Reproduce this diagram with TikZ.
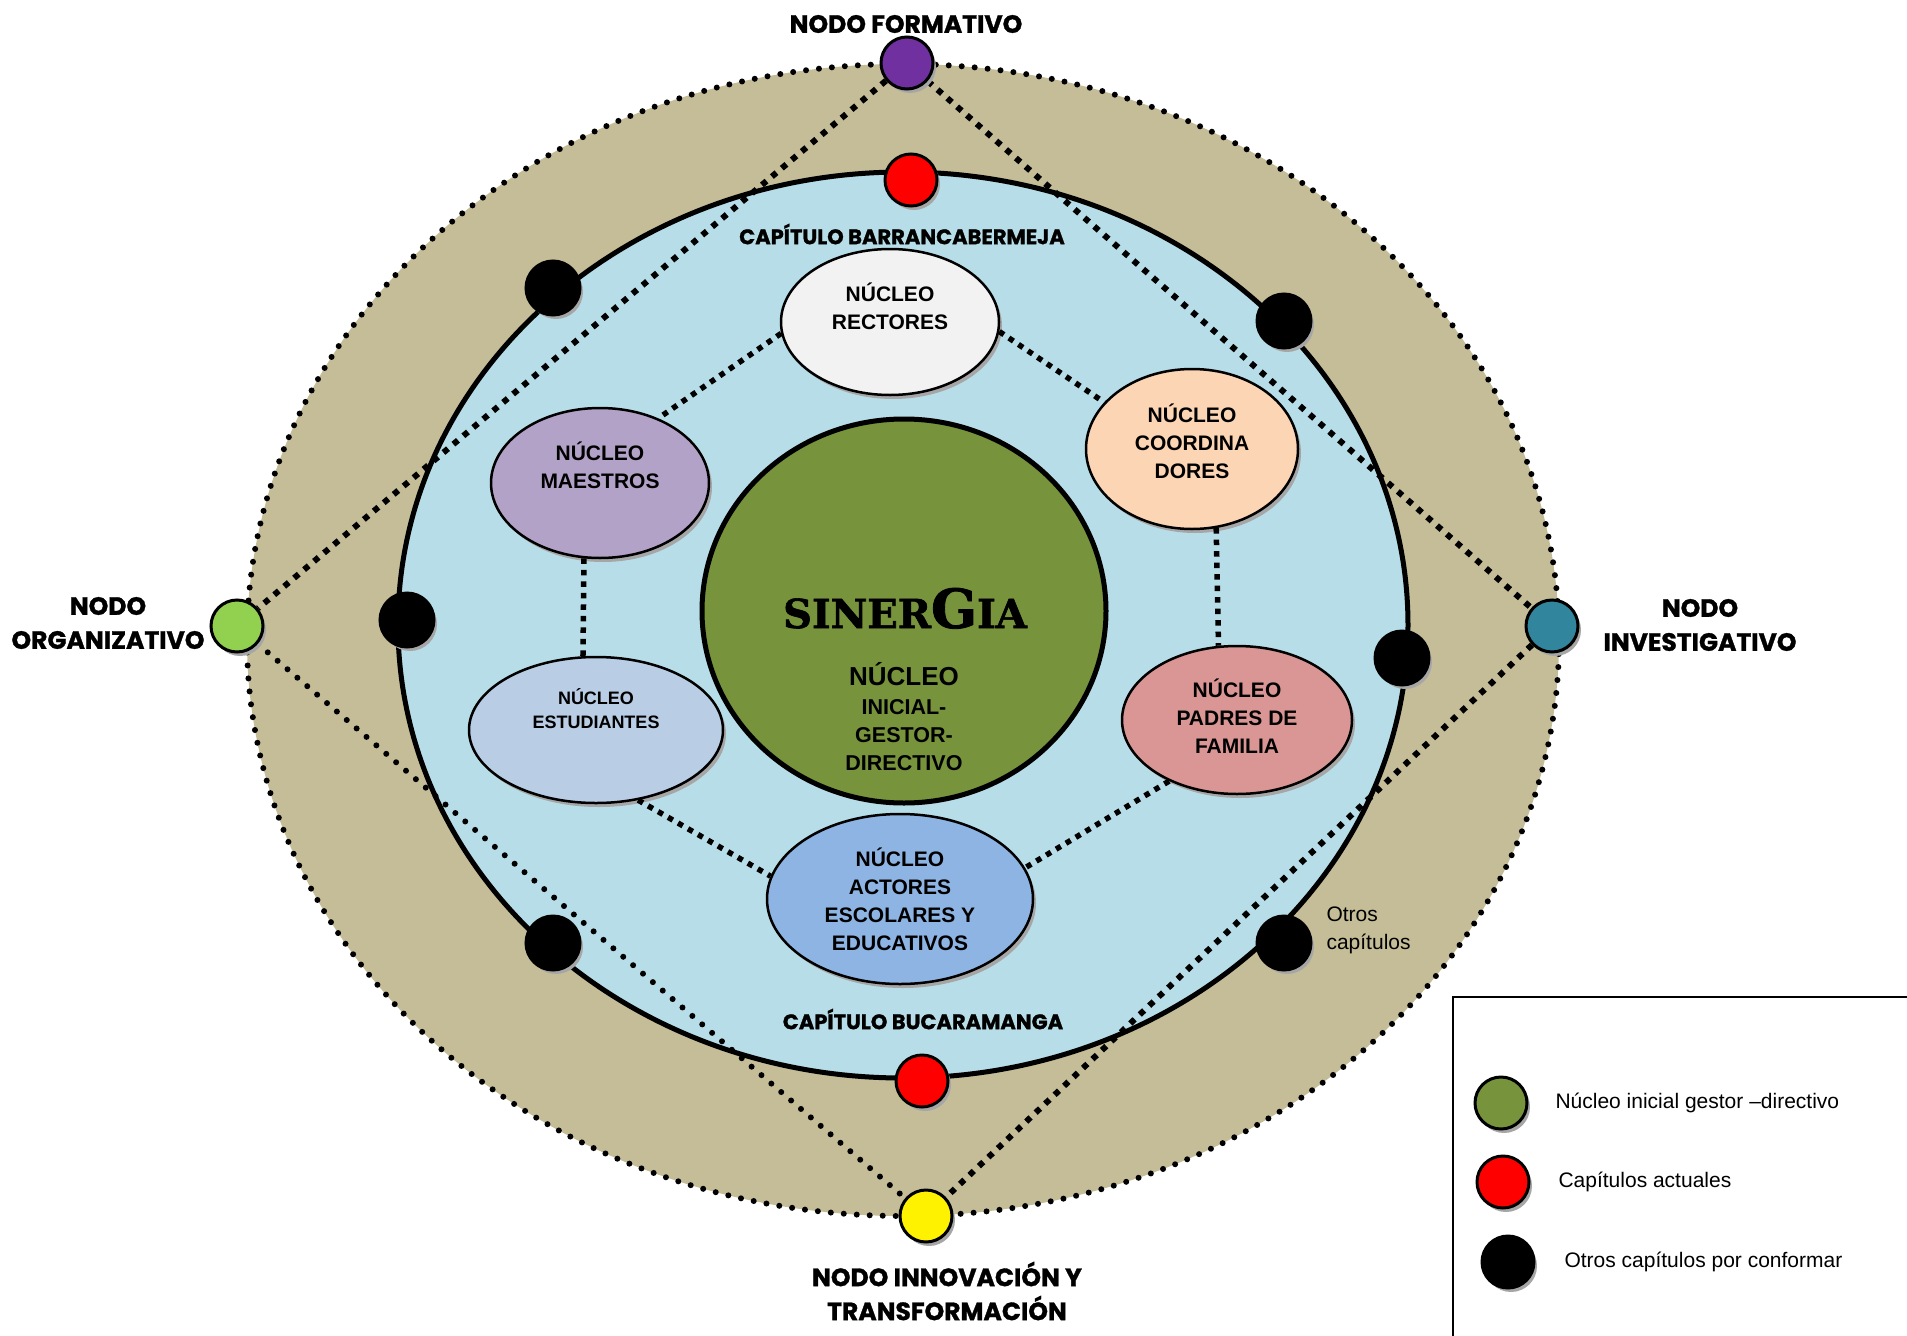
\documentclass[tikz,border=0pt]{standalone}
\usepackage{fontspec}
\setmainfont{Liberation Sans}
\newfontfamily\nodofont[FakeBold=1.2]{Poppins}
\newfontfamily\sinfont[FakeBold=1.5]{DejaVu Serif}
\usetikzlibrary{shapes.geometric,shadows}
\definecolor{tanbg}{HTML}{C4BD97}
\definecolor{aquabg}{HTML}{B7DEE8}
\definecolor{sinergia}{HTML}{77933C}
\definecolor{formc}{HTML}{7030A0}
\definecolor{orgc}{HTML}{92D050}
\definecolor{invc}{HTML}{31859C}
\definecolor{rectc}{HTML}{F2F2F2}
\definecolor{maesc}{HTML}{B3A2C7}
\definecolor{coorc}{HTML}{FCD5B5}
\definecolor{estuc}{HTML}{B9CDE5}
\definecolor{padrc}{HTML}{D99694}
\definecolor{actc}{HTML}{8EB4E3}
\pgfdeclarelayer{back}
\pgfdeclarelayer{mid}
\pgfsetlayers{back,mid,main}
\tikzset{
  shad/.style={drop shadow={shadow xshift=3pt, shadow yshift=-4pt, fill=black!35, opacity=1}},
  nuc/.style={ellipse, draw=black, line width=2.5pt, inner sep=0pt, shad},
  nuctext/.style={font=\bfseries\fontsize{21}{28}\selectfont, align=center, inner sep=0pt},
  dotnode/.style={circle, draw=black, line width=3pt, minimum size=52pt, inner sep=0pt, shad},
  sqdots/.style={line width=6pt, dash pattern=on 6pt off 7pt},
  nucdots/.style={line width=5.5pt, dash pattern=on 5.5pt off 6pt},
  rddots/.style={line width=6pt, line cap=round, dash pattern=on 0pt off 13pt},
  nodolbl/.style={font=\nodofont\bfseries\fontsize{25}{34}\selectfont, align=center},
  caplbl/.style={font=\nodofont\bfseries\fontsize{21}{24}\selectfont},
  legtext/.style={font=\fontsize{21}{28}\selectfont, anchor=west, align=left},
}
\begin{document}
\begin{tikzpicture}[x=1pt,y=-1pt]
\useasboundingbox (0,0) rectangle (1907,1336);
\begin{pgfonlayer}{back}
\draw[fill=tanbg, rddots] (903,640) ellipse [x radius=656pt, y radius=576pt];
\draw[fill=aquabg, line width=5pt] (903,625) ellipse [x radius=505pt, y radius=453pt];
\end{pgfonlayer}

% outer nodes
\node[dotnode, fill=formc] (form) at (907,63) {};
\node[dotnode, fill=orgc] (org) at (237,626) {};
\node[dotnode, fill=invc] (inv) at (1552,626) {};
\node[dotnode, fill=yellow] (inn) at (926,1216) {};
\node[dotnode, fill=red] (capb) at (911,180) {};
\node[dotnode, fill=red] (capbu) at (922,1081) {};
\node[dotnode, fill=black, minimum size=54pt] (k1) at (553,288) {};
\node[dotnode, fill=black, minimum size=54pt] (k2) at (1284,321) {};
\node[dotnode, fill=black, minimum size=54pt] (k3) at (407,620) {};
\node[dotnode, fill=black, minimum size=54pt] (k4) at (1402,658) {};
\node[dotnode, fill=black, minimum size=54pt] (k5) at (553,943) {};
\node[dotnode, fill=black, minimum size=54pt] (k6) at (1284,943) {};

\begin{pgfonlayer}{mid}
\draw[sqdots] (form) -- (org);
\draw[sqdots] (form) -- (inv);
\draw[rddots] (org) -- (inn);
\draw[sqdots] (inv) -- (inn);
\end{pgfonlayer}

% centre
\node[ellipse, draw=black, line width=5pt, fill=sinergia, minimum width=404pt, minimum height=384pt, inner sep=0pt] (sin) at (904,611) {};
\node[anchor=base, inner sep=0pt] (sintitle) at (905,628) {\sinfont\bfseries\fontsize{40}{40}\selectfont SINER\fontsize{54}{54}\selectfont G\fontsize{40}{40}\selectfont IA};
\node[font=\bfseries\fontsize{26}{30}\selectfont, inner sep=0pt] (nuc0) at (904,674) {NÚCLEO};
\node[font=\bfseries\fontsize{21.5}{28}\selectfont, align=center, inner sep=0pt] (nuc0b) at (904,735) {INICIAL-\\GESTOR-\\DIRECTIVO};

% nucleos
\node[nuc, fill=rectc, minimum width=218pt, minimum height=146pt,
  label={[nuctext,yshift=16pt]center:{NÚCLEO\\RECTORES}}] (rect) at (890,322) {};
\node[nuc, fill=maesc, minimum width=218pt, minimum height=150pt,
  label={[nuctext,yshift=18pt]center:{NÚCLEO\\MAESTROS}}] (maes) at (600,483) {};
\node[nuc, fill=coorc, minimum width=212pt, minimum height=160pt,
  label={[nuctext,yshift=8pt]center:{NÚCLEO\\COORDINA\\DORES}}] (coor) at (1192,449) {};
\node[nuc, fill=estuc, minimum width=254pt, minimum height=146pt,
  label={[nuctext,font=\bfseries\fontsize{18}{24}\selectfont,yshift=21pt]center:{NÚCLEO\\ESTUDIANTES}}] (estu) at (596,730) {};
\node[nuc, fill=padrc, minimum width=230pt, minimum height=148pt,
  label={[nuctext,yshift=4pt]center:{NÚCLEO\\PADRES DE\\FAMILIA}}] (padr) at (1237,720) {};
\node[nuc, fill=actc, minimum width=266pt, minimum height=170pt,
  label={[nuctext]center:{NÚCLEO\\ACTORES\\ESCOLARES Y\\EDUCATIVOS}}] (act) at (900,899) {};

\draw[nucdots] (rect.186) -- (maes.48);
\draw[nucdots] (rect.355) -- (coor.152);
\draw[nucdots] (maes.258) -- (estu.100);
\draw[nucdots] (coor.287) -- (padr.104);
\draw[nucdots] (estu.301) -- (act.170);
\draw[nucdots] (padr.222) -- (act.14);

% labels
\node[nodolbl] (lform) at (906,24) {NODO FORMATIVO};
\node[nodolbl] (lorg) at (108,623) {NODO\\ORGANIZATIVO};
\node[nodolbl] (linv) at (1700,625) {NODO\\INVESTIGATIVO};
\node[nodolbl] (linn) at (947,1291) {NODO INNOVACIÓN Y\\TRANSFORMACIÓN};
\node[caplbl] (lcapb) at (902,234) {CAPÍTULO BARRANCABERMEJA};
\node[caplbl] (lcapbu) at (923,1019) {CAPÍTULO BUCARAMANGA};
\node[legtext] (otros) at (1323,930) {Otros\\capítulos};

% legend
\draw[line width=2pt] (1453,997) rectangle (1915,1345);
\node[dotnode, fill=sinergia] (lg1) at (1501,1103) {};
\node[legtext] (lt1) at (1552,1103) {Núcleo inicial gestor –directivo};
\node[dotnode, fill=red] (lg2) at (1503,1182) {};
\node[legtext] (lt2) at (1555,1182) {Capítulos actuales};
\node[dotnode, fill=black] (lg3) at (1508,1262) {};
\node[legtext] (lt3) at (1561,1262) {Otros capítulos por conformar};
\end{tikzpicture}
\end{document}
